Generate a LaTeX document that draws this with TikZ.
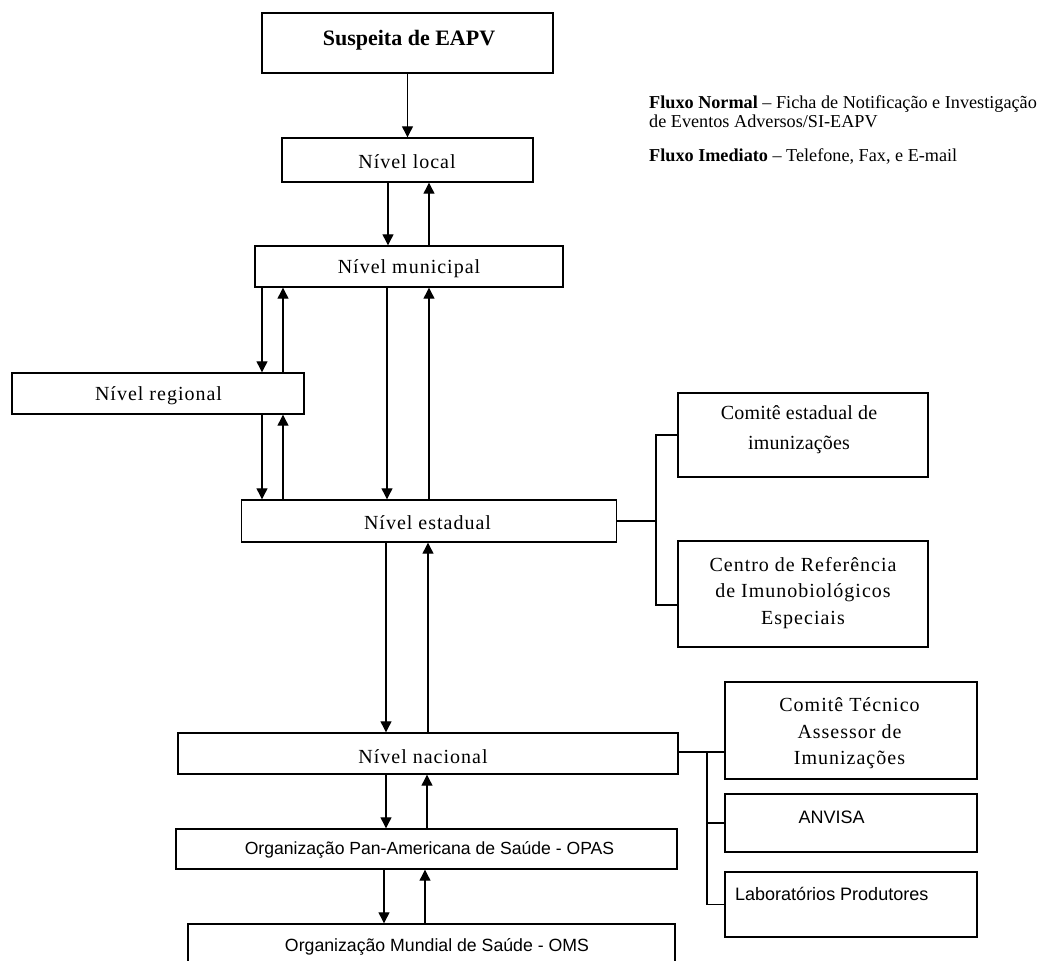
\documentclass[tikz,border=0pt]{standalone}
\usepackage{fontspec}
\setmainfont{Liberation Serif}
\newfontfamily\sansf{Liberation Sans}
\newfontfamily\widef[LetterSpace=5.0]{Liberation Serif}
\newfontfamily\narrowf[LetterSpace=1.0]{Liberation Serif}
\usetikzlibrary{arrows.meta}
\begin{document}
\begin{tikzpicture}[x=1pt,y=-1pt,
  box/.style={draw, line width=1.4pt, inner sep=0pt},
  arr/.style={line width=1.2pt, -{Triangle[width=11pt,length=11pt]}},
  ln/.style={line width=1.2pt},
  txt/.style={inner sep=0pt, align=center, font=\widef\fontsize{20}{26.5}\selectfont},
  stxt/.style={inner sep=0pt, align=center, font=\sansf\fontsize{18}{21}\selectfont},
  leg/.style={inner sep=0pt, anchor=base west, font=\fontsize{18.2}{22}\selectfont}]
\useasboundingbox (0,0) rectangle (1042,961);
\clip (0,0) rectangle (1042,961);
% boxes
\node[box, minimum width=291pt, minimum height=60pt] (sus) at (407.5,43) {};
\node[box, minimum width=251pt, minimum height=44pt] (loc) at (407.5,160) {};
\node[box, minimum width=308pt, minimum height=41pt] (mun) at (409,266.5) {};
\node[box, minimum width=292pt, minimum height=41pt] (reg) at (158,393.5) {};
\node[box, minimum width=375pt, minimum height=42pt] (est) at (429,521) {};
\node[box, minimum width=250pt, minimum height=84pt] (ce1) at (803,435) {};
\node[box, minimum width=250pt, minimum height=106pt] (cri) at (803,594) {};
\node[box, minimum width=500pt, minimum height=41pt] (nac) at (428,753.5) {};
\node[box, minimum width=252pt, minimum height=97pt] (ctai) at (851,730.5) {};
\node[box, minimum width=252pt, minimum height=58pt] (anv) at (851,823) {};
\node[box, minimum width=252pt, minimum height=65pt] (lab) at (851,904.5) {};
\node[box, minimum width=501pt, minimum height=40pt] (opas) at (426.5,849) {};
\node[box, minimum width=487pt, minimum height=60pt] (oms) at (431.5,954) {};
% texts
\node[inner sep=0pt, font=\bfseries\fontsize{22}{26}\selectfont] (tsus) at (409,40) {Suspeita de EAPV};
\node[txt] (tloc) at (407,162) {Nível local};
\node[txt] (tmun) at (409,269) {Nível municipal};
\node[txt] (treg) at (158.5,396) {Nível regional};
\node[txt] (test) at (427.5,523) {Nível estadual};
\node[txt, font=\narrowf\fontsize{20}{30}\selectfont] (tce1) at (799,430) {Comitê estadual de\\imunizações};
\node[txt] (tcri) at (803,593) {Centro de Referência\\de Imunobiológicos\\Especiais};
\node[txt] (tctai) at (849.5,733.5) {Comitê Técnico\\Assessor de\\Imunizações};
\node[txt] (tnac) at (423,757) {Nível nacional};
\node[stxt] (tanv) at (831.7,817) {ANVISA};
\node[stxt, anchor=west] (tlab) at (735,894) {Laboratórios Produtores};
\node[stxt, font=\sansf\fontsize{17.6}{21}\selectfont] (topas) at (429.5,850) {Organização Pan-Americana de Saúde - OPAS};
\node[stxt, font=\sansf\fontsize{17.7}{21}\selectfont] (toms) at (437,947) {Organização Mundial de Saúde - OMS};
% legend
\node[leg] (l1) at (649,108) {\textbf{Fluxo Normal} – Ficha de Notificação e Investigação};
\node[leg] (l2) at (649,127) {de Eventos Adversos/SI-EAPV};
\node[leg] (l3) at (649,161) {\textbf{Fluxo Imediato} – Telefone, Fax, e E-mail};
% column coordinates
\coordinate (a1) at (388,0); \coordinate (a2) at (429,0);
\coordinate (b1) at (262,0); \coordinate (b2) at (283,0);
\coordinate (c1) at (387,0); \coordinate (c2) at (429,0);
\coordinate (d1) at (386,0); \coordinate (d2) at (428,0);
\coordinate (e1) at (386,0); \coordinate (e2) at (427,0);
\coordinate (f1) at (384,0); \coordinate (f2) at (425,0);
\coordinate (bx) at (656,0); \coordinate (by) at (707,0);
% arrows
\draw[arr] (sus.south) -- (loc.north);
\draw[arr] (loc.south -| a1) -- (mun.north -| a1);
\draw[arr] (mun.north -| a2) -- (loc.south -| a2);
\draw[arr] (mun.south -| b1) -- (reg.north -| b1);
\draw[arr] (reg.north -| b2) -- (mun.south -| b2);
\draw[arr] (reg.south -| b1) -- (est.north -| b1);
\draw[arr] (est.north -| b2) -- (reg.south -| b2);
\draw[arr] (mun.south -| c1) -- (est.north -| c1);
\draw[arr] (est.north -| c2) -- (mun.south -| c2);
\draw[arr] (est.south -| d1) -- (nac.north -| d1);
\draw[arr] (nac.north -| d2) -- (est.south -| d2);
\draw[arr] (nac.south -| e1) -- (opas.north -| e1);
\draw[arr] (opas.north -| e2) -- (nac.south -| e2);
\draw[arr] (opas.south -| f1) -- (oms.north -| f1);
\draw[arr] (oms.north -| f2) -- (opas.south -| f2);
% side connectors
\coordinate (crw) at ([yshift=-11pt]cri.west);
\draw[ln] (est.east) -- (est.east -| bx);
\draw[ln] (ce1.west) -- (ce1.west -| bx) -- (crw -| bx) -- (crw);
\coordinate (ctw) at ([yshift=-21.5pt]ctai.west);
\draw[ln] (nac.east |- ctw) -- (ctw);
\draw[ln] (ctw -| by) -- (lab.west -| by) -- (lab.west);
\draw[ln] (anv.west -| by) -- (anv.west);
\end{tikzpicture}
\end{document}
